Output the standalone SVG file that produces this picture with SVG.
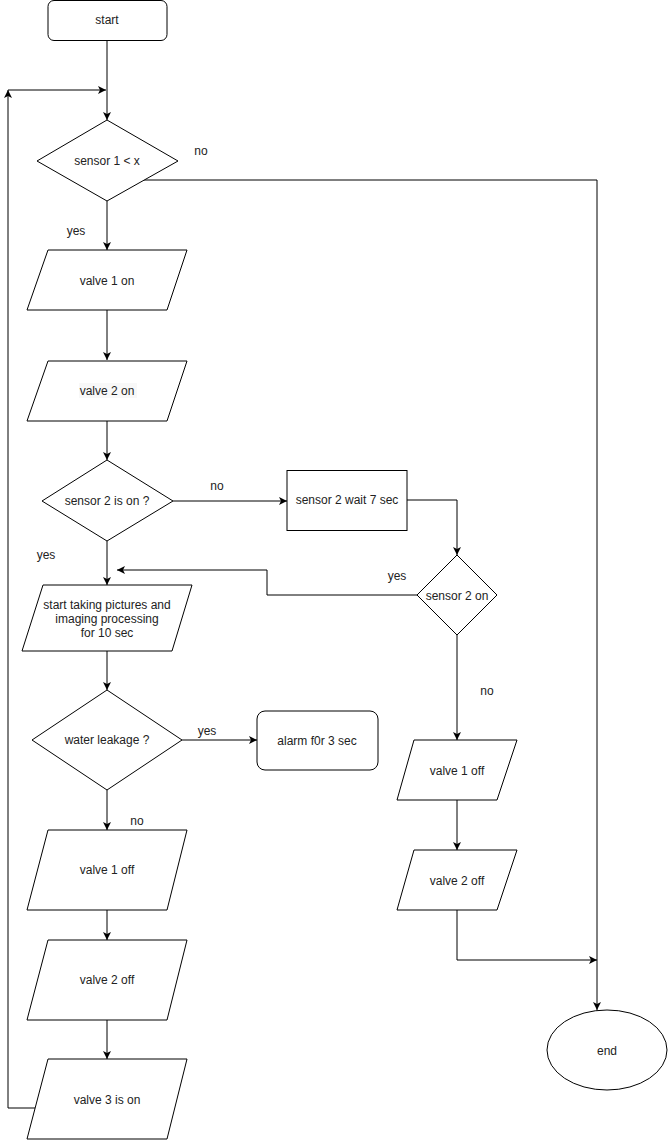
<svg xmlns="http://www.w3.org/2000/svg" width="669" height="1140" viewBox="0 0 669 1140">
<defs>
<marker id="arr" markerWidth="10" markerHeight="10" refX="8" refY="4" orient="auto" markerUnits="userSpaceOnUse">
<path d="M0,0 L8,4 L0,8 L2,4 Z" fill="#000"/>
</marker>
<style>
.s{fill:#fff;stroke:#000;stroke-width:1}
.c{fill:none;stroke:#000;stroke-width:1;marker-end:url(#arr)}
.l{fill:none;stroke:#000;stroke-width:1}
text{font-family:"Liberation Sans",Arial,sans-serif;font-size:12px;fill:#222}
.m{text-anchor:middle}
</style>
</defs>
<rect width="669" height="1140" fill="#fff"/>
<g id="connectors">
<path class="c" d="M107,40 V120"/>
<path class="c" d="M35,1108 H8 V90"/>
<path class="c" d="M8,90 H106"/>
<path class="c" d="M143,180 H597 V1010"/>
<path class="c" d="M107,201 V250"/>
<path class="c" d="M107,310 V360"/>
<path class="c" d="M107,421 V460"/>
<path class="c" d="M173,501 H287"/>
<path class="c" d="M407,500 H457 V555"/>
<path class="c" d="M417,595 H267 V570 H117"/>
<path class="c" d="M107,541 V585"/>
<path class="c" d="M107,651 V690"/>
<path class="c" d="M182,740 H257"/>
<path class="c" d="M107,790 V830"/>
<path class="c" d="M107,910 V940"/>
<path class="c" d="M107,1020 V1059"/>
<path class="c" d="M457,635 V740"/>
<path class="c" d="M457,800 V850"/>
<path class="c" d="M457,910 V960 H597"/>
<text x="201" y="155" class="m">no</text>
<text x="76" y="235" class="m">yes</text>
<text x="217" y="490" class="m">no</text>
<text x="46" y="559" class="m">yes</text>
<text x="397" y="580" class="m">yes</text>
<text x="487" y="695" class="m">no</text>
<text x="207" y="735" class="m">yes</text>
<text x="137" y="825" class="m">no</text>
</g>
<g id="start">
<rect class="s" x="48" y="0.5" width="119" height="40" rx="6"/>
<text x="107" y="24" class="m">start</text>
</g>
<g id="sensor1">
<polygon class="s" points="107,120 178,161 107,201 37,161"/>
<text x="107" y="165" class="m">sensor 1 &lt; x</text>
</g>
<g id="valve1on">
<polygon class="s" points="48,250 187,250 167,310 27,310"/>
<text x="107" y="285" class="m">valve 1 on</text>
</g>
<g id="valve2on">
<polygon class="s" points="48,361 187,361 167,421 27,421"/>
<rect x="79" y="383" width="58" height="15" fill="#f8f8f8"/>
<text x="107" y="395" class="m">valve 2 on</text>
</g>
<g id="sensor2">
<polygon class="s" points="107,460 173,501 107,541 42,501"/>
<text x="107" y="505" class="m">sensor 2 is on ?</text>
</g>
<g id="wait">
<rect class="s" x="287" y="470.5" width="120" height="60"/>
<text x="347" y="504" class="m">sensor 2 wait 7 sec</text>
</g>
<g id="sensor2on">
<polygon class="s" points="457,555 497,595 457,635 417,595"/>
<rect x="425" y="588" width="64" height="15" fill="#fff"/>
<text x="457" y="600" class="m">sensor 2 on</text>
</g>
<g id="pictures">
<polygon class="s" points="43,585 192,585 172,651 22,651"/>
<text x="107" y="609" class="m">start taking pictures and</text>
<text x="107" y="623" class="m">imaging processing</text>
<text x="107" y="637" class="m">for 10 sec</text>
</g>
<g id="leak">
<polygon class="s" points="107,690 182,740 107,790 32,740"/>
<text x="107" y="744" class="m">water leakage ?</text>
</g>
<g id="alarm">
<rect class="s" x="257" y="711" width="121" height="59" rx="8"/>
<text x="317" y="745" class="m">alarm f0r 3 sec</text>
</g>
<g id="valve1offL">
<polygon class="s" points="48,830 187,830 167,910 27,910"/>
<text x="107" y="874" class="m">valve 1 off</text>
</g>
<g id="valve2offL">
<polygon class="s" points="48,940 187,940 167,1020 27,1020"/>
<text x="107" y="984" class="m">valve 2 off</text>
</g>
<g id="valve3">
<polygon class="s" points="48,1059 187,1059 167,1139 27,1139"/>
<text x="107" y="1104" class="m">valve 3 is on</text>
</g>
<g id="valve1offR">
<polygon class="s" points="414,740 517,740 497,800 397,800"/>
<text x="457" y="775" class="m">valve 1 off</text>
</g>
<g id="valve2offR">
<polygon class="s" points="414,850 517,850 497,910 397,910"/>
<text x="457" y="885" class="m">valve 2 off</text>
</g>
<g id="end">
<ellipse class="s" cx="607" cy="1050" rx="60" ry="40"/>
<text x="607" y="1055" class="m">end</text>
</g>
</svg>
